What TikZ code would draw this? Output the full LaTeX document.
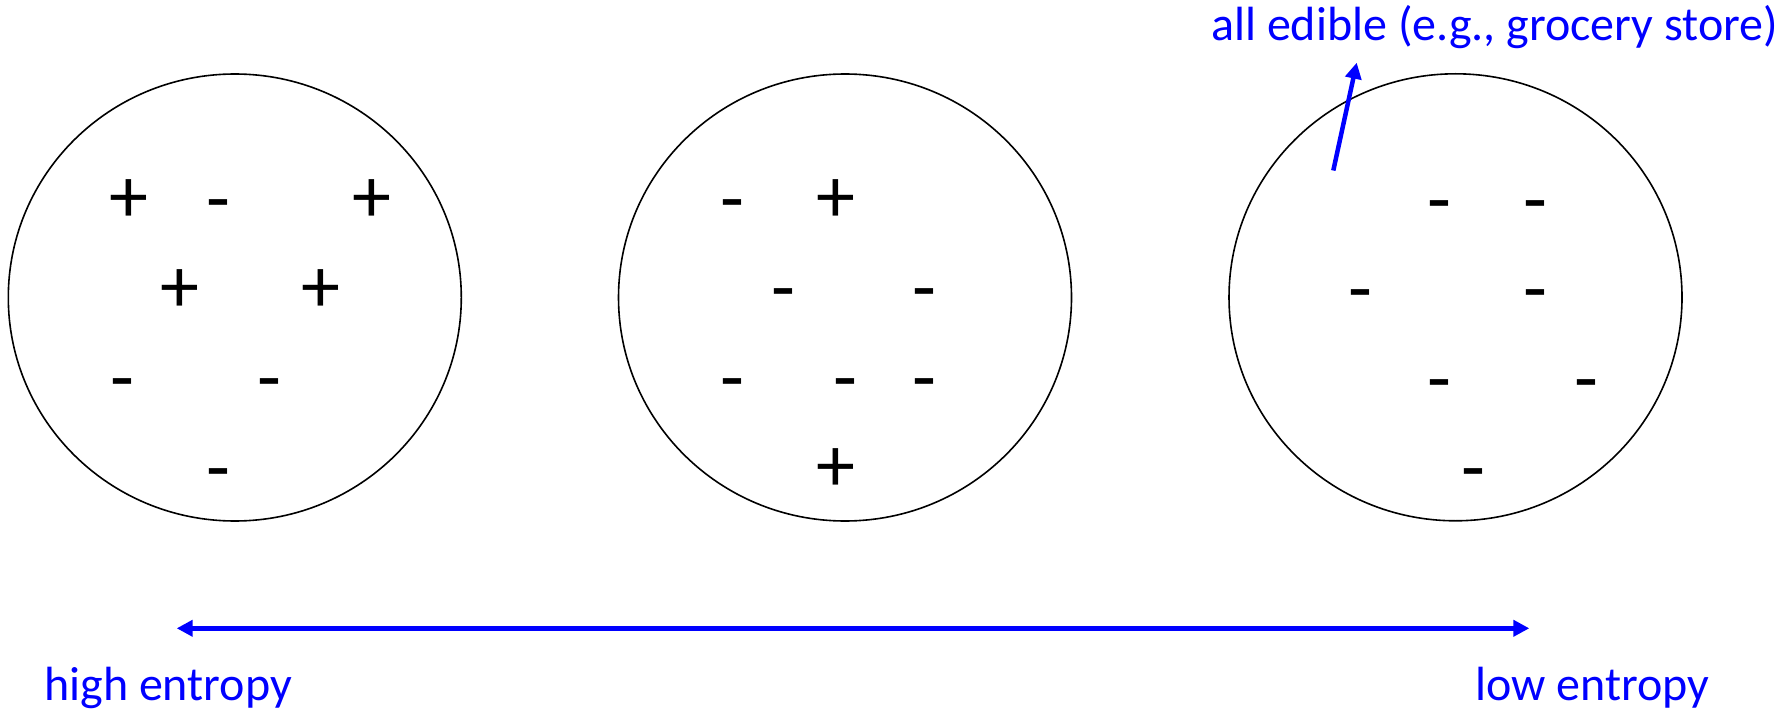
\documentclass[tikz,border=0pt]{standalone}
\usepackage{fontspec}
\setmainfont{Carlito}
\usetikzlibrary{arrows.meta}
\begin{document}
\begin{tikzpicture}[x=1pt,y=-1pt,
  ring/.style={draw=black,line width=1.6pt},
  sgn/.style={inner sep=0pt,anchor=center,font=\fontsize{78}{80}\selectfont},
  msgn/.style={sgn,yshift=-12pt},
  psgn/.style={sgn,yshift=-3pt},
  lbl/.style={inner sep=0pt,anchor=base west,text=blue,font=\fontsize{48}{50}\selectfont},
  barrow/.style={draw=blue,line width=4.5pt,-{Triangle[length=16pt,width=16pt]}}]
\useasboundingbox (0,0) rectangle (1790,711);
% circles
\coordinate (c1) at (234.8,297.5);
\coordinate (c2) at (845,297.5);
\coordinate (c3) at (1455.5,297.3);
\draw[ring] (c1) ellipse [x radius=226.5, y radius=223.5];
\draw[ring] (c2) ellipse [x radius=226.5, y radius=223.5];
\draw[ring] (c3) ellipse [x radius=226.5, y radius=223.5];
% circle 1
\node[psgn] (a1) at (129.3,197.7) {+};
\node[msgn] (a2) at (218.3,200) {-};
\node[psgn] (a3) at (372.3,197.7) {+};
\node[psgn] (a4) at (180,287.7) {+};
\node[psgn] (a5) at (321,287.7) {+};
\node[msgn] (a6) at (122.3,379.3) {-};
\node[msgn] (a7) at (269,379.3) {-};
\node[msgn] (a8) at (218.3,469.3) {-};
% circle 2
\node[msgn] (b1) at (732.7,200) {-};
\node[psgn] (b2) at (836,197.7) {+};
\node[msgn] (b3) at (783.3,289.3) {-};
\node[msgn] (b4) at (924.7,289.3) {-};
\node[msgn] (b5) at (732.7,379.3) {-};
\node[msgn] (b6) at (845.7,379.3) {-};
\node[msgn] (b7) at (924.7,379.3) {-};
\node[psgn] (b8) at (836,466.7) {+};
% circle 3
\node[msgn] (d1) at (1439,200.7) {-};
\node[msgn] (d2) at (1535.3,200.7) {-};
\node[msgn] (d3) at (1360,290) {-};
\node[msgn] (d4) at (1535.3,290) {-};
\node[msgn] (d5) at (1439,380) {-};
\node[msgn] (d6) at (1586.3,380) {-};
\node[msgn] (d7) at (1473.3,469.3) {-};
% labels
\node[lbl] (top) at (1211,40.7) {all edible (e.g., grocery store)};
\node[lbl] (high) at (44,700) {high entropy};
\node[lbl] (low) at (1475,700.7) {low entropy};
% arrows
\coordinate (et) at (1333.3,170.5);
\coordinate (eh) at (1356.7,62.7);
\draw[barrow] (et) -- (eh);
\coordinate (hl) at (176.7,628.3);
\coordinate (hr) at (1529.3,628.3);
\draw[barrow,{Triangle[length=16pt,width=16pt]}-{Triangle[length=16pt,width=16pt]}] (hl) -- (hr);
\end{tikzpicture}
\end{document}
